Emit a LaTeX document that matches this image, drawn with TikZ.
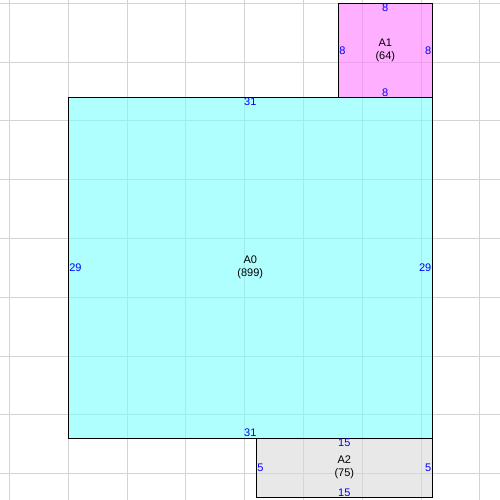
\documentclass[tikz,border=0pt]{standalone}
\usepackage{fontspec}
\setmainfont{Liberation Sans}
\definecolor{cyanfill}{RGB}{123,255,255}
\definecolor{pinkfill}{RGB}{255,123,255}
\definecolor{greyfill}{RGB}{217,217,217}
\definecolor{gridgrey}{RGB}{211,211,211}
\definecolor{dimblue}{RGB}{0,0,255}
\newcommand{\lblfont}{\fontsize{11}{13}\selectfont}
\begin{document}
\begin{tikzpicture}[x=1pt,y=-1pt,
  room/.style={draw=black, line width=1pt, inner sep=0pt, align=center,
    font=\lblfont, fill opacity=0.6, draw opacity=1, text opacity=1},
  dim/.style={text=dimblue, font=\lblfont, inner sep=1.3pt},
  gridline/.style={draw=gridgrey, line width=1pt}]
\useasboundingbox (0,0) rectangle (500,500);
\fill[white] (0,0) rectangle (500,500);
% grid
\foreach \g in {9.5,68.3,127.1,185.9,244.7,303.5,362.3,421.1,479.9}
  \draw[gridline] (\g,0) -- (\g,500);
\foreach \g in {3.3,62.1,120.9,179.7,238.5,297.3,356.1,414.9,473.7}
  \draw[gridline] (0,\g) -- (500,\g);
% rooms
\node[room, fill=cyanfill, minimum width=364pt, minimum height=340.7pt] (A0) at (250.3,267.65) {A0\\(899)};
\node[room, fill=pinkfill, minimum width=94pt, minimum height=94pt] (A1) at (385.3,50.3) {A1\\(64)};
\node[room, fill=greyfill, minimum width=176pt, minimum height=59.3pt] (A2) at (344.3,467.65) {A2\\(75)};
% dimensions A0
\node[dim, anchor=north] (A0t) at (A0.north) {31};
\node[dim, anchor=south] (A0b) at (A0.south) {31};
\node[dim, anchor=west] (A0l) at (A0.west) {29};
\node[dim, anchor=east] (A0r) at (A0.east) {29};
% dimensions A1
\node[dim, anchor=north] (A1t) at (A1.north) {8};
\node[dim, anchor=south] (A1b) at (A1.south) {8};
\node[dim, anchor=west] (A1l) at (A1.west) {8};
\node[dim, anchor=east] (A1r) at (A1.east) {8};
% dimensions A2
\node[dim, anchor=north] (A2t) at (A2.north) {15};
\node[dim, anchor=south] (A2b) at (A2.south) {15};
\node[dim, anchor=west] (A2l) at (A2.west) {5};
\node[dim, anchor=east] (A2r) at (A2.east) {5};
\end{tikzpicture}
\end{document}
